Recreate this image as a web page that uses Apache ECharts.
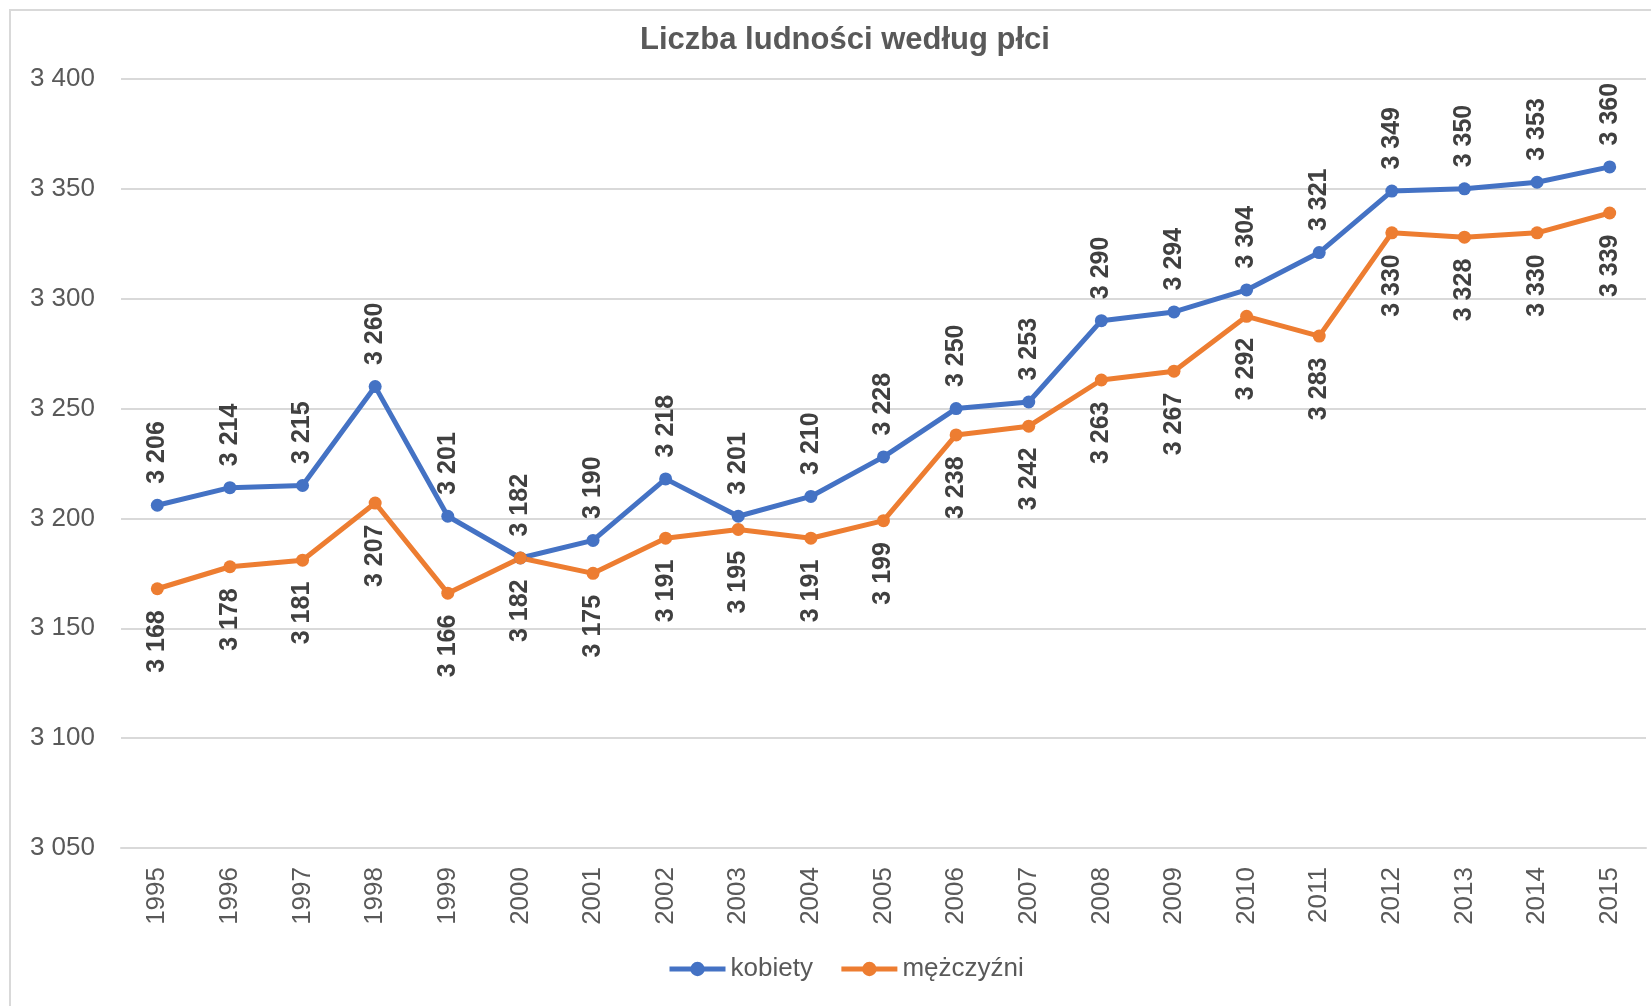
<!DOCTYPE html>
<html>
<head>
<meta charset="utf-8">
<script src="https://cdn.jsdelivr.net/npm/echarts@6/dist/echarts.min.js"></script>
<style>
    html, body { margin: 0; padding: 0; background: #fff; }
    #chart { width: 1651px; height: 1006px; }
</style>
</head>
<body>
<div id="chart"></div>
<script>
// lata
const years = ['1995', '1996', '1997', '1998', '1999', '2000', '2001', '2002', '2003', '2004', '2005',
    '2006', '2007', '2008', '2009', '2010', '2011', '2012', '2013', '2014', '2015'];
// kobiety
const women = [3206, 3214, 3215, 3260, 3201, 3182, 3190, 3218, 3201, 3210, 3228,
    3250, 3253, 3290, 3294, 3304, 3321, 3349, 3350, 3353, 3360];
// mężczyźni
const men = [3168, 3178, 3181, 3207, 3166, 3182, 3175, 3191, 3195, 3191, 3199,
    3238, 3242, 3263, 3267, 3292, 3283, 3330, 3328, 3330, 3339];
const yMin = 3050;
const yMax = 3400;
const yStep = 50;

const fontFamily = '"Liberation Sans", Arial, sans-serif';

function fmt(v) {
    return String(v).replace(/\B(?=(\d{3})+(?!\d))/g, ' ');
}

function makeSeries(name, data, color, above) {
    return {
        name: name,
        type: 'line',
        data: data,
        symbol: 'circle',
        symbolSize: 13,
        itemStyle: { color: color },
        lineStyle: { width: 5, color: color },
        label: {
            show: true,
            position: above ? 'top' : 'bottom',
            rotate: 90,
            align: above ? 'left' : 'right',
            verticalAlign: 'middle',
            distance: 15,
            color: '#404040',
            fontSize: 25,
            fontWeight: 'bold',
            fontFamily: fontFamily,
            formatter: (p) => fmt(p.value)
        },
        emphasis: { disabled: true }
    };
}

const chart = echarts.init(document.getElementById('chart'));
chart.setOption({
    animation: false,
    backgroundColor: '#fff',
    title: {
        text: 'Liczba ludności według płci',
        left: 635,
        top: 20,
        textStyle: {
            color: '#595959',
            fontSize: 31,
            fontWeight: 'bold',
            fontFamily: fontFamily
        }
    },
    graphic: [
        {
            type: 'rect',
            shape: { x: 10, y: 10, width: 1700, height: 1100 },
            style: { fill: 'none', stroke: '#d9d9d9', lineWidth: 2 },
            silent: true
        }
    ],
    legend: {
        bottom: 19,
        left: 662,
        itemWidth: 56,
        itemHeight: 18,
        itemGap: 26,
        lineStyle: { width: 5 },
        textStyle: { color: '#595959', fontSize: 26, fontFamily: fontFamily },
        data: ['kobiety', 'mężczyźni']
    },
    grid: {
        left: 121,
        right: 5,
        top: 79,
        bottom: 158
    },
    xAxis: {
        type: 'category',
        data: years,
        boundaryGap: true,
        axisLine: { lineStyle: { color: '#d9d9d9', width: 2 } },
        axisTick: { show: false },
        axisLabel: {
            rotate: 90,
            margin: 19,
            color: '#595959',
            fontSize: 26,
            fontFamily: fontFamily
        }
    },
    yAxis: {
        type: 'value',
        min: yMin,
        max: yMax,
        interval: yStep,
        axisLine: { show: false },
        axisTick: { show: false },
        splitLine: { lineStyle: { color: '#d9d9d9', width: 2 } },
        axisLabel: {
            margin: 26,
            color: '#595959',
            fontSize: 26,
            fontFamily: fontFamily,
            formatter: (v) => fmt(v)
        }
    },
    series: [
        makeSeries('kobiety', women, '#4472C4', true),
        makeSeries('mężczyźni', men, '#ED7D31', false)
    ]
});
</script>
</body>
</html>
